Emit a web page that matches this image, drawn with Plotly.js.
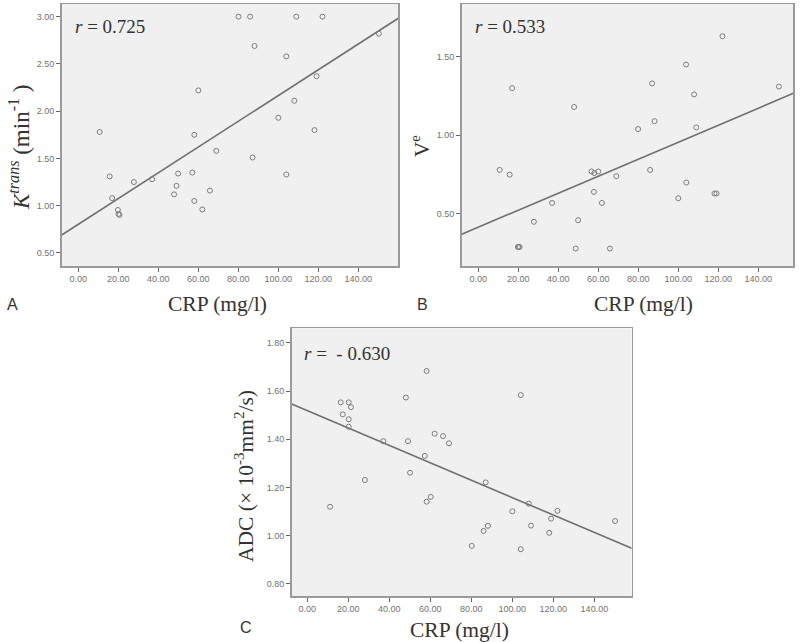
<!DOCTYPE html>
<html>
<head>
<meta charset="utf-8">
<script src="https://cdn.plot.ly/plotly-3.0.1.min.js"></script>
<style>
html,body{margin:0;padding:0;background:#fff;}
#chart{width:800px;height:642px;}
</style>
</head>
<body>
<div id="chart"></div>
<script>
// ---- Data ----
const crpA = [10.7, 15.7, 16.9, 19.8, 20.1, 20.6, 27.8, 36.9, 47.9, 49.1, 49.9, 57.0, 58.0, 58.0, 60.0, 62.0, 65.8, 69.0, 80.1, 85.9, 88.1, 87.1, 100.0, 104.0, 104.0, 108.0, 109.0, 118.1, 119.1, 122.1, 150.3];
const ktrans = [1.78, 1.31, 1.08, 0.955, 0.913, 0.903, 1.25, 1.28, 1.12, 1.21, 1.34, 1.35, 1.05, 1.75, 2.22, 0.96, 1.16, 1.58, 3.00, 3.00, 2.69, 1.51, 1.93, 2.58, 1.33, 2.11, 3.00, 1.80, 2.37, 3.00, 2.82];

const crpB = [10.7, 15.7, 16.9, 19.8, 20.2, 20.6, 27.8, 36.9, 47.9, 48.7, 49.9, 56.6, 58.0, 57.8, 60.0, 61.8, 65.8, 69.0, 79.9, 85.9, 86.9, 88.1, 100.0, 103.9, 104.0, 107.9, 109.0, 118.1, 119.1, 122.1, 150.3];
const ve = [0.78, 0.75, 1.30, 0.29, 0.29, 0.29, 0.45, 0.57, 1.18, 0.28, 0.46, 0.77, 0.76, 0.64, 0.77, 0.57, 0.28, 0.74, 1.04, 0.78, 1.33, 1.09, 0.60, 1.45, 0.70, 1.26, 1.05, 0.63, 0.63, 1.63, 1.31];

const crpC = [11.1, 16.3, 17.3, 20.2, 21.3, 20.2, 20.2, 28.1, 37.1, 48.1, 49.1, 50.1, 57.3, 58.2, 58.2, 60.2, 62.1, 66.2, 69.1, 80.2, 86.0, 87.0, 88.1, 100.0, 104.1, 104.1, 108.0, 109.1, 118.0, 118.9, 122.0, 150.1];
const adc = [1.120, 1.553, 1.503, 1.553, 1.533, 1.483, 1.452, 1.231, 1.392, 1.573, 1.392, 1.261, 1.331, 1.683, 1.141, 1.161, 1.423, 1.413, 1.383, 0.958, 1.020, 1.221, 1.041, 1.101, 1.583, 0.944, 1.133, 1.042, 1.012, 1.071, 1.103, 1.061];

// Fit lines (end points)
const fitAx = [-8.3, 160.0], fitAy = [0.690, 2.983];
const fitBx = [-8.3, 157.5], fitBy = [0.371, 1.267];
const fitCx = [-7.6, 158.2], fitCy = [1.546, 0.948];

const xTicks = [0, 20, 40, 60, 80, 100, 120, 140];
const yTicksA = [0.5, 1.0, 1.5, 2.0, 2.5, 3.0];
const yTicksB = [0.5, 1.0, 1.5];
const yTicksC = [0.8, 1.0, 1.2, 1.4, 1.6, 1.8];

const rA = '<i>r</i> = 0.725';
const rB = '<i>r</i> = 0.533';
const rC = '<i>r</i> = \u00a0- 0.630';
const xTitle = 'CRP (mg/l)';
const yTitleA = '<i>K</i><sup><i>trans</i></sup> (min<sup>-1</sup> )';
const yTitleB = 'V<sup>e</sup>';
const yTitleC = 'ADC (\u00d7 10<sup>-3</sup>mm<sup>2</sup>/s)';

// ---- Styling ----
const W = 800, H = 642;
const px = v => v / W;
const py = v => 1 - v / H;
const markerStyle = {symbol: 'circle-open', size: 5, color: '#7d7d7d', line: {width: 1, color: '#7d7d7d'}};
const lineStyle = {color: '#707070', width: 1.6};

function pts(x, y, xa, ya) {
  return {x: x, y: y, xaxis: xa, yaxis: ya, type: 'scatter', mode: 'markers', marker: markerStyle, hoverinfo: 'skip', showlegend: false, cliponaxis: false};
}
function fit(x, y, xa, ya) {
  return {x: x, y: y, xaxis: xa, yaxis: ya, type: 'scatter', mode: 'lines', line: lineStyle, hoverinfo: 'skip', showlegend: false};
}

const data = [
  fit(fitAx, fitAy, 'x', 'y'), pts(crpA, ktrans, 'x', 'y'),
  fit(fitBx, fitBy, 'x2', 'y2'), pts(crpB, ve, 'x2', 'y2'),
  fit(fitCx, fitCy, 'x3', 'y3'), pts(crpC, adc, 'x3', 'y3')
];

const tickFont = {family: 'Liberation Sans, Arial, sans-serif', size: 9, color: '#727272'};
function xax(dom, rng, anchor) {
  return {domain: dom, range: rng, anchor: anchor, tickvals: xTicks, tickformat: '.2f', ticks: 'outside', ticklen: 4, tickcolor: '#666', tickwidth: 1,
    showline: true, mirror: true, linecolor: '#9a9a9a', linewidth: 1.5, showgrid: false, zeroline: false, tickfont: tickFont, fixedrange: true};
}
function yax(dom, rng, tv, anchor) {
  return {domain: dom, range: rng, anchor: anchor, tickvals: tv, tickformat: '.2f', ticks: 'outside', ticklen: 4, tickcolor: '#666', tickwidth: 1,
    showline: true, mirror: true, linecolor: '#9a9a9a', linewidth: 1.5, showgrid: false, zeroline: false, tickfont: tickFont, fixedrange: true};
}

const serif = 'Liberation Serif, Times New Roman, serif';
const sans = 'Liberation Sans, Arial, sans-serif';
function ann(text, x, y, opts) {
  return Object.assign({text: text, x: px(x), y: py(y), xref: 'paper', yref: 'paper', showarrow: false,
    xanchor: 'center', yanchor: 'middle', font: {family: serif, size: 19, color: '#333'}}, opts || {});
}
const titleFont = {family: serif, size: 21.5, color: '#333'};

const layout = {
  width: W, height: H,
  margin: {l: 0, r: 0, t: 0, b: 0},
  paper_bgcolor: '#ffffff',
  plot_bgcolor: '#f0f0f0',
  showlegend: false,
  xaxis: xax([px(61.7), px(398.3)], [-8.3, 160.0], 'y'),
  yaxis: yax([py(266), py(4)], [0.362, 3.134], yTicksA, 'x'),
  xaxis2: xax([px(461.7), px(793.3)], [-8.3, 157.5], 'y2'),
  yaxis2: yax([py(266), py(4)], [0.169, 1.835], yTicksB, 'x2'),
  xaxis3: xax([px(291.7), px(631.7)], [-7.6, 158.2], 'y3'),
  yaxis3: yax([py(596), py(328.3)], [0.750, 1.860], yTicksC, 'x3'),
  annotations: [
    ann(rA, 72.7, 27, {xanchor: 'left'}),
    ann(rB, 472.7, 27, {xanchor: 'left'}),
    ann(rC, 301.7, 354, {xanchor: 'left'}),
    ann(xTitle, 217, 304, {font: titleFont}),
    ann(xTitle, 643, 304, {font: titleFont}),
    ann(xTitle, 460, 630, {font: titleFont}),
    ann(yTitleA, 19, 148, {textangle: -90, font: {family: serif, size: 23, color: '#333'}}),
    ann(yTitleB, 420, 146, {textangle: -90, font: {family: serif, size: 21, color: '#333'}}),
    ann(yTitleC, 244, 476, {textangle: -90, font: titleFont}),
    ann('A', 12.5, 304, {font: {family: sans, size: 16, color: '#333'}}),
    ann('B', 422, 304, {font: {family: sans, size: 16, color: '#333'}}),
    ann('C', 246, 627, {font: {family: sans, size: 16, color: '#333'}})
  ]
};

Plotly.newPlot('chart', data, layout, {staticPlot: true, displayModeBar: false});
</script>
</body>
</html>
